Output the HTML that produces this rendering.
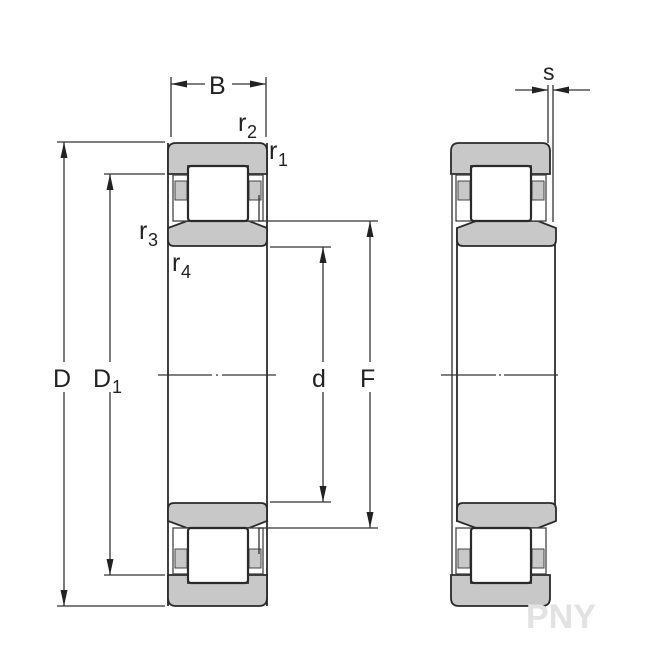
<!DOCTYPE html>
<html><head><style>body{margin:0;background:#fff}svg{display:block}text{font-family:"Liberation Sans",sans-serif;fill:#222}</style></head><body>
<svg width="648" height="667" viewBox="0 0 648 667" xmlns="http://www.w3.org/2000/svg">
<defs>
<g id="outer">
<path d="M168,151 Q168,143 176,143 H259 Q267,143 267,151 V174 H248 V166 H188 V174 H168 Z" fill="#c8c8c8" stroke="#2a2a2a" stroke-width="1.8"/>
<rect x="173" y="175" width="15" height="46" fill="#fff" stroke="#444" stroke-width="1.3"/>
<rect x="175" y="181" width="12" height="19" fill="#c8c8c8" stroke="#444" stroke-width="1"/>
<rect x="248" y="175" width="15" height="46" fill="#fff" stroke="#444" stroke-width="1.3"/>
<rect x="249" y="181" width="12" height="19" fill="#c8c8c8" stroke="#444" stroke-width="1"/>
<rect x="188" y="166" width="60" height="55" rx="3" fill="#fff" stroke="#2a2a2a" stroke-width="2.2"/>
</g>
<g id="inner">
<path d="M187,221 H249 L267,228 V240 Q267,246 261,246 H174 Q168,246 168,240 V228 Z" fill="#c8c8c8" stroke="#2a2a2a" stroke-width="1.8"/>
</g>
<g id="half">
<use href="#inner"/><use href="#outer"/>
</g>
</defs>
<g stroke="#2a2a2a" stroke-width="1.8" fill="none">
<line x1="168" y1="143" x2="168" y2="606"/>
<line x1="267" y1="143" x2="267" y2="606"/>
<line x1="452" y1="175" x2="452" y2="575" stroke-width="1.3"/>
<line x1="457" y1="228" x2="457" y2="522"/>
<line x1="555" y1="228" x2="555" y2="522"/>
</g>
<use href="#half"/>
<g transform="translate(0,749) scale(1,-1)"><use href="#half"/></g>
<g transform="translate(289,0)"><use href="#inner"/></g>
<g transform="translate(283,0)"><use href="#outer"/></g>
<g transform="translate(0,749) scale(1,-1)">
<g transform="translate(289,0)"><use href="#inner"/></g>
<g transform="translate(283,0)"><use href="#outer"/></g>
</g>
<g stroke="#333" stroke-width="1.3" fill="none">
<path d="M158,375 H212 M216,375 H218 M222,375 H276"/>
<path d="M441,375 H496 M499,375 H501 M504,375 H558"/>
<line x1="57" y1="142" x2="165" y2="142"/><line x1="57" y1="606" x2="165" y2="606"/>
<line x1="64" y1="142" x2="64" y2="362"/><line x1="64" y1="392" x2="64" y2="606"/>
<line x1="104" y1="174" x2="165" y2="174"/><line x1="104" y1="575" x2="165" y2="575"/>
<line x1="110" y1="174" x2="110" y2="362"/><line x1="110" y1="392" x2="110" y2="575"/>
<line x1="270" y1="247" x2="331" y2="247"/><line x1="270" y1="502" x2="331" y2="502"/>
<line x1="323" y1="247" x2="323" y2="362"/><line x1="323" y1="392" x2="323" y2="502"/>
<line x1="258" y1="221" x2="378" y2="221"/><line x1="258" y1="528" x2="378" y2="528"/>
<line x1="370" y1="221" x2="370" y2="362"/><line x1="370" y1="392" x2="370" y2="528"/>
<line x1="259" y1="195" x2="259" y2="221"/><line x1="259" y1="528" x2="259" y2="554"/>
<line x1="171" y1="77" x2="171" y2="137"/><line x1="266" y1="77" x2="266" y2="137"/>
<line x1="171" y1="84" x2="205" y2="84"/><line x1="232" y1="84" x2="266" y2="84"/>
<line x1="548" y1="85" x2="548" y2="143"/><line x1="553" y1="85" x2="553" y2="222"/>
<line x1="515" y1="90" x2="548" y2="90"/><line x1="553" y1="90" x2="590" y2="90"/>
</g>
<g fill="#222">
<path d="M64,142 l-3.5,16 h7 z"/><path d="M64,606 l-3.5,-16 h7 z"/>
<path d="M110,174 l-3.5,16 h7 z"/><path d="M110,575 l-3.5,-16 h7 z"/>
<path d="M323,247 l-3.5,16 h7 z"/><path d="M323,502 l-3.5,-16 h7 z"/>
<path d="M370,221 l-3.5,16 h7 z"/><path d="M370,528 l-3.5,-16 h7 z"/>
<path d="M171,84 l16,-3.5 v7 z"/><path d="M266,84 l-16,-3.5 v7 z"/>
<path d="M548,90 l-16,-3.5 v7 z"/><path d="M553,90 l16,-3.5 v7 z"/>
</g>
<g font-size="25">
<text x="53" y="387">D</text>
<text x="93" y="387">D</text><text x="112" y="393" font-size="18">1</text>
<text x="312" y="387">d</text>
<text x="360" y="387">F</text>
<text x="209" y="94">B</text>
<text x="543" y="80" font-size="23">s</text>
<text x="238" y="131">r</text><text x="247" y="138" font-size="18">2</text>
<text x="269" y="159">r</text><text x="278" y="166" font-size="18">1</text>
<text x="139" y="239">r</text><text x="148" y="246" font-size="18">3</text>
<text x="172" y="271">r</text><text x="181" y="278" font-size="18">4</text>
</g>
<text x="526" y="628" font-size="34" font-weight="bold" style="fill:#e2e2e2">PNY</text>
</svg>
</body></html>
